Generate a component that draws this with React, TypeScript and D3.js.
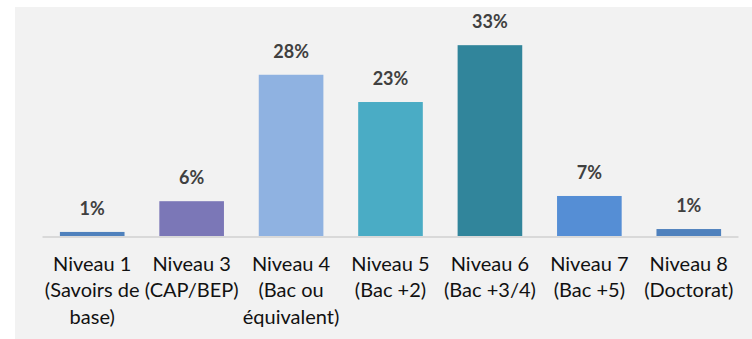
import React from "react";
import * as d3 from "d3";

const categories = ["N1", "N3", "N4", "N5", "N6", "N7", "N8"];
const categoryLines = [
  ["Niveau 1", "(Savoirs de", "base)"],
  ["Niveau 3", "(CAP/BEP)"],
  ["Niveau 4", "(Bac ou", "équivalent)"],
  ["Niveau 5", "(Bac +2)"],
  ["Niveau 6", "(Bac +3/4)"],
  ["Niveau 7", "(Bac +5)"],
  ["Niveau 8", "(Doctorat)"],
];
const values = [0.7, 6.0, 27.8, 23.1, 32.9, 6.9, 1.2];
const valueLabels = ["1%", "6%", "28%", "23%", "33%", "7%", "1%"];
const colors = ["#4f81bd", "#7b77b7", "#8fb2e1", "#4aacc5", "#31859b", "#558ed5", "#4f81bd"];

const W = 752;
const H = 339;
const baseY = 236;

export default function App() {
  const x = d3
    .scaleBand<string>()
    .domain(categories)
    .range([42.5, 738.5])
    .paddingInner(0.35)
    .paddingOuter(0.175);
  const y = d3.scaleLinear().domain([0, 40]).range([baseY, baseY - 40 * 5.8]);
  const font = "Lato, 'Open Sans', sans-serif";

  return (
    <svg
      width={W}
      height={H}
      style={{ position: "absolute", left: 0, top: 0, display: "block" }}
    >
      <rect x={0} y={0} width={W} height={H} fill="#ffffff" />
      <rect x={15} y={7} width={W - 15} height={H - 7} fill="#f2f2f2" />
      {categories.map((c, i) => {
        const bx = x(c)!;
        const bw = x.bandwidth();
        const top = y(values[i]);
        return (
          <g key={c}>
            <rect x={bx} y={top} width={bw} height={baseY - top} fill={colors[i]} />
            <text
              x={bx + bw / 2}
              y={top - 17}
              textAnchor="middle"
              fontFamily={font}
              fontWeight="bold"
              fontSize={18}
              fill="#404040"
            >
              {valueLabels[i]}
            </text>
            <text
              x={bx + bw / 2}
              y={270.5}
              textAnchor="middle"
              fontFamily={font}
              fontSize={20}
              fill="#111111"
            >
              {categoryLines[i].map((ln, j) => (
                <tspan key={j} x={bx + bw / 2} y={270.5 + j * 26.5}>
                  {ln}
                </tspan>
              ))}
            </text>
          </g>
        );
      })}
      <line x1={42.5} x2={738.5} y1={baseY + 1} y2={baseY + 1} stroke="#d9d9d9" strokeWidth={2} />
    </svg>
  );
}
